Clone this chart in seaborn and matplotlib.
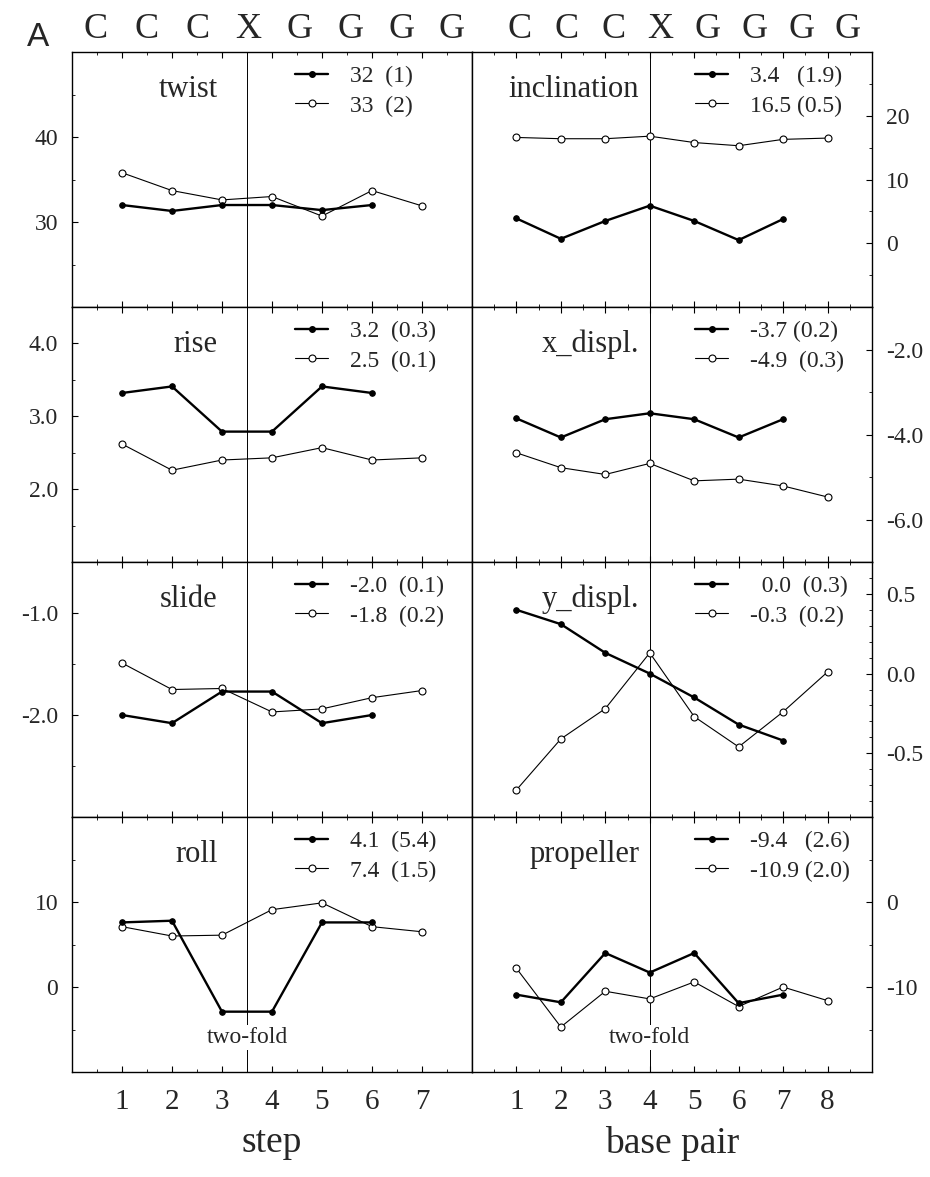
import numpy as np
import matplotlib
matplotlib.use("Agg")
import matplotlib.pyplot as plt
from matplotlib.lines import Line2D
from matplotlib.legend_handler import HandlerLine2D
import seaborn as sns

# ---------------- data ----------------
steps = [1, 2, 3, 4, 5, 6, 7]
bps = [1, 2, 3, 4, 5, 6, 7, 8]
sequence = ["C", "C", "C", "X", "G", "G", "G", "G"]

twist_filled = [32.0, 31.3, 32.0, 32.0, 31.4, 32.0]
twist_open = [35.8, 33.7, 32.6, 33.0, 30.7, 33.7, 31.9]
incl_filled = [3.9, 0.7, 3.5, 5.9, 3.5, 0.5, 3.8]
incl_open = [16.6, 16.4, 16.4, 16.8, 15.8, 15.3, 16.3, 16.5]
rise_filled = [3.32, 3.41, 2.79, 2.79, 3.41, 3.32]
rise_open = [2.62, 2.26, 2.40, 2.43, 2.57, 2.40, 2.43]
xd_filled = [-3.62, -4.07, -3.64, -3.50, -3.64, -4.07, -3.64]
xd_open = [-4.43, -4.78, -4.94, -4.68, -5.09, -5.05, -5.21, -5.47]
slide_filled = [-2.00, -2.08, -1.77, -1.77, -2.08, -2.00]
slide_open = [-1.49, -1.75, -1.74, -1.97, -1.94, -1.83, -1.76]
yd_filled = [0.40, 0.31, 0.13, 0.00, -0.15, -0.32, -0.42]
yd_open = [-0.73, -0.41, -0.22, 0.13, -0.27, -0.46, -0.24, 0.01]
roll_filled = [7.6, 7.8, -2.9, -2.9, 7.6, 7.6]
roll_open = [7.1, 6.0, 6.1, 9.1, 9.9, 7.1, 6.5]
prop_filled = [-10.9, -11.8, -6.0, -8.3, -6.0, -11.9, -10.9]
prop_open = [-7.8, -14.7, -10.5, -11.4, -9.4, -12.3, -10.0, -11.6]

panels = [
    # (title, filled, open, legend_filled, legend_open, ylim, major, labels, minor)
    ("twist", twist_filled, twist_open, "32  (1)", "33  (2)",
     (20, 50), [30, 40], ["30", "40"], [25, 35, 45]),
    ("inclination", incl_filled, incl_open, "3.4   (1.9)", "16.5 (0.5)",
     (-10, 30), [0, 10, 20], ["0", "10", "20"], [-5, 5, 15, 25]),
    ("rise", rise_filled, rise_open, "3.2  (0.3)", "2.5  (0.1)",
     (1.0, 4.5), [2.0, 3.0, 4.0], ["2.0", "3.0", "4.0"], [1.5, 2.5, 3.5]),
    ("x_displ.", xd_filled, xd_open, "-3.7 (0.2)", "-4.9  (0.3)",
     (-7, -1), [-6, -4, -2], ["-6.0", "-4.0", "-2.0"], [-5, -3]),
    ("slide", slide_filled, slide_open, "-2.0  (0.1)", "-1.8  (0.2)",
     (-3.0, -0.5), [-2.0, -1.0], ["-2.0", "-1.0"], [-2.5, -1.5]),
    ("y_displ.", yd_filled, yd_open, "  0.0  (0.3)", "-0.3  (0.2)",
     (-0.9, 0.7), [-0.5, 0.0, 0.5], ["-0.5", "0.0", "0.5"],
     [-0.8, -0.7, -0.6, -0.4, -0.3, -0.2, -0.1, 0.1, 0.2, 0.3, 0.4, 0.6]),
    ("roll", roll_filled, roll_open, "4.1  (5.4)", "7.4  (1.5)",
     (-10, 20), [0, 10], ["0", "10"], [-5, 5, 15]),
    ("propeller", prop_filled, prop_open, "-9.4   (2.6)", "-10.9 (2.0)",
     (-20, 10), [-10, 0], ["-10", "0"], [-15, -5, 5]),
]

# ---------------- style ----------------
sns.set_theme(style="ticks")
plt.rcParams["font.family"] = ["Liberation Serif", "DejaVu Serif"]
plt.rcParams["axes.unicode_minus"] = False


class EndMarkerHandler(HandlerLine2D):
    def get_xdata(self, legend, xdescent, ydescent, width, height, fontsize):
        xdata = np.array([-xdescent, -xdescent + width])
        return xdata, np.array([-xdescent + width])


fig = plt.figure(figsize=(9.3, 11.77), dpi=100)
fig.patch.set_facecolor("white")
gs = fig.add_gridspec(4, 2, left=0.0774, right=0.9376, top=0.9558,
                      bottom=0.0892, wspace=0, hspace=0)

filled_kw = dict(color="black", linewidth=1.7, marker="o", markersize=4,
                 markerfacecolor="black", markeredgecolor="black")
open_kw = dict(color="black", linewidth=0.8, marker="o", markersize=5,
               markerfacecolor="white", markeredgecolor="black",
               markeredgewidth=0.8)

for i, (title, f_vals, o_vals, lf, lo, ylim, major, labels, minor) in enumerate(panels):
    row, col = divmod(i, 2)
    ax = fig.add_subplot(gs[row, col])
    ax.set_facecolor("white")
    xs_f = (steps if col == 0 else bps)[:len(f_vals)]
    xs_o = (steps if col == 0 else bps)[:len(o_vals)]
    center = 3.5 if col == 0 else 4.0
    ax.axvline(center, color="black", linewidth=0.7, zorder=1)
    sns.lineplot(x=xs_o, y=o_vals, ax=ax, zorder=3, **open_kw)
    sns.lineplot(x=xs_f, y=f_vals, ax=ax, zorder=4, **filled_kw)

    ax.set_xlim(0, 8 if col == 0 else 9)
    ax.set_ylim(*ylim)
    ax.set_xticks(steps if col == 0 else bps)
    ax.set_xticks(np.arange(0.5, (8 if col == 0 else 9), 0.5), minor=True)
    ax.set_yticks(major)
    ax.set_yticklabels(labels)
    ax.set_yticks(minor, minor=True)

    for s in ax.spines.values():
        s.set_visible(True)
        s.set_linewidth(1.0)
        s.set_color("black")

    ax.tick_params(axis="both", which="both", direction="in", color="black")
    ax.tick_params(axis="both", which="major", length=4, width=0.8)
    ax.tick_params(axis="both", which="minor", length=2, width=0.6)
    ax.tick_params(axis="x", which="both", top=True, bottom=True)
    if col == 0:
        ax.tick_params(axis="y", which="both", left=True, right=False,
                       labelleft=True, labelright=False, labelsize=17, pad=10)
    else:
        ax.tick_params(axis="y", which="both", left=False, right=True,
                       labelleft=False, labelright=True, labelsize=17, pad=10)
    if row == 3:
        ax.tick_params(axis="x", labelbottom=True, labelsize=21, pad=12)
        ax.set_xlabel("step" if col == 0 else "base pair", fontsize=27,
                      labelpad=8)
        ax.text(center, 0.115, "two-fold", transform=ax.get_xaxis_transform(),
                ha="center", va="baseline", fontsize=17, zorder=5,
                bbox=dict(facecolor="white", edgecolor="none", pad=1.5))
    else:
        ax.tick_params(axis="x", labelbottom=False)
        ax.set_xlabel("")
    ax.set_ylabel("")

    tx = 0.364 if col == 0 else 0.418
    ax.text(tx, 0.825, title, transform=ax.transAxes, ha="right",
            va="baseline", fontsize=22)

    h_f = Line2D([], [], **filled_kw)
    h_o = Line2D([], [], **open_kw)
    ax.legend([h_f, h_o], [lf, lo], loc="upper left",
              bbox_to_anchor=(0.535, 0.985),
              frameon=False, fontsize=17, numpoints=1,
              handlelength=1.4, handletextpad=0.9, labelspacing=0.35,
              borderaxespad=0.0,
              handler_map={Line2D: EndMarkerHandler()})

# top sequence letters
left_pos = np.linspace(96, 452, len(sequence)) / 930
right_pos = np.linspace(520, 848, len(sequence)) / 930
for xs in (left_pos, right_pos):
    for x, ch in zip(xs, sequence):
        fig.text(x, 1 - 30 / 1177, ch, ha="center", va="center", fontsize=26)
fig.text(38 / 930, 1 - 38 / 1177, "A", ha="center", va="center", fontsize=24,
         family=["Liberation Sans", "DejaVu Sans"])

fig.savefig("out.png", dpi=100, facecolor="white")
